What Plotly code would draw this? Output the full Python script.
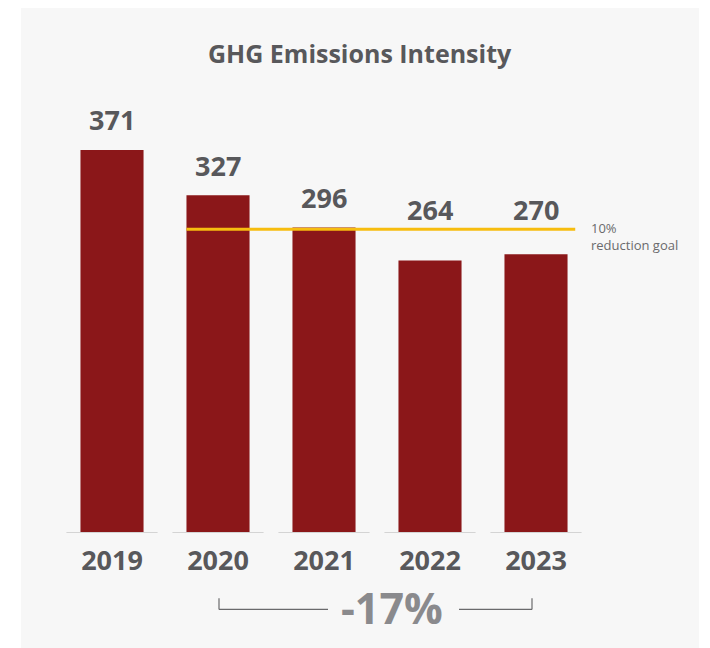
import plotly.graph_objects as go

years = ["2019", "2020", "2021", "2022", "2023"]
intensity = [371, 327, 296, 264, 270]
goal_value = 294.3
goal_label = "10%<br>reduction goal"
change_label = "-17%"
title_text = "GHG Emissions Intensity"

BAR = "#8b1719"
TXT = "#58585b"
FONT = "Open Sans"

fig = go.Figure()
fig.add_trace(go.Bar(
    x=years, y=intensity, marker=dict(color=BAR, line=dict(width=0)),
    width=0.595, hoverinfo="skip", showlegend=False,
))

shapes = []
# gray panel background
shapes.append(dict(type="rect", xref="paper", yref="paper",
                   x0=-0.0717, x1=1.2075, y0=-0.35, y1=1.276,
                   fillcolor="#f7f7f7", line=dict(width=0), layer="below"))
shapes.append(dict(type="line", xref="paper", yref="paper",
                   x0=1.2245, x1=1.2245, y0=-0.35, y1=1.32,
                   line=dict(color="#ececec", width=2), layer="below"))
# baseline segments per category
for i, _ in enumerate(years):
    shapes.append(dict(type="line", xref="x", yref="y",
                       x0=i - 0.43, x1=i + 0.43, y0=0, y1=0,
                       line=dict(color="#d4d4d4", width=2)))
# goal line
shapes.append(dict(type="line", xref="x", yref="y",
                   x0=1 - 0.2975, x1=4.37, y0=goal_value, y1=goal_value,
                   line=dict(color="#f7bd0f", width=3), layer="above"))
# bracket
bk = dict(color="#6a6a6c", width=1.2)
yb = -0.185
shapes += [
    dict(type="line", xref="paper", yref="paper", x0=(219 - 59) / 530, x1=(219 - 59) / 530, y0=yb, y1=yb + 0.027, line=bk),
    dict(type="line", xref="paper", yref="paper", x0=(219 - 59) / 530, x1=(328 - 59) / 530, y0=yb, y1=yb, line=bk),
    dict(type="line", xref="paper", yref="paper", x0=(459 - 59) / 530, x1=(532 - 59) / 530, y0=yb, y1=yb, line=bk),
    dict(type="line", xref="paper", yref="paper", x0=(532 - 59) / 530, x1=(532 - 59) / 530, y0=yb, y1=yb + 0.027, line=bk),
]

annotations = []
for i, v in enumerate(intensity):
    above = v > goal_value
    annotations.append(dict(x=i, y=v if above else goal_value, xref="x", yref="y", text=str(v),
                            showarrow=False, yanchor="middle", yshift=30 if above else 20,
                            font=dict(family=FONT, size=27, color=TXT, weight="bold")))
annotations.append(dict(x=(589 - 59) / 530, y=goal_value, xref="paper", yref="y",
                        text=goal_label, showarrow=False, xanchor="left", yanchor="middle",
                        align="left", yshift=-7,
                        font=dict(family=FONT, size=13, color="#6a6a6c")))
annotations.append(dict(x=(392 - 59) / 530, y=(533 - 607) / 413, xref="paper", yref="paper",
                        text=change_label, showarrow=False, xanchor="center", yanchor="middle",
                        font=dict(family=FONT, size=43, color="#8a8a8d", weight="bold")))
annotations.append(dict(x=(360 - 59) / 530, y=(533 - 53) / 413, xref="paper", yref="paper",
                        text=title_text, showarrow=False, xanchor="center", yanchor="middle",
                        font=dict(family=FONT, size=25, color=TXT, weight="bold")))

# page body has an 8px default offset; shift plot area up/left to compensate
fig.update_layout(
    width=710, height=648,
    margin=dict(l=51, r=129, t=112, b=123),
    paper_bgcolor="white", plot_bgcolor="rgba(0,0,0,0)",
    shapes=shapes, annotations=annotations,
    xaxis=dict(type="category", range=[-0.5, 4.5], showgrid=False, zeroline=False,
               showline=False, ticks="", ticklabelstandoff=9,
               tickfont=dict(family=FONT, size=27, color=TXT, weight="bold")),
    yaxis=dict(range=[0, 400], visible=False, showgrid=False, zeroline=False),
    bargap=0.4,
)

fig.write_html("out.html")
